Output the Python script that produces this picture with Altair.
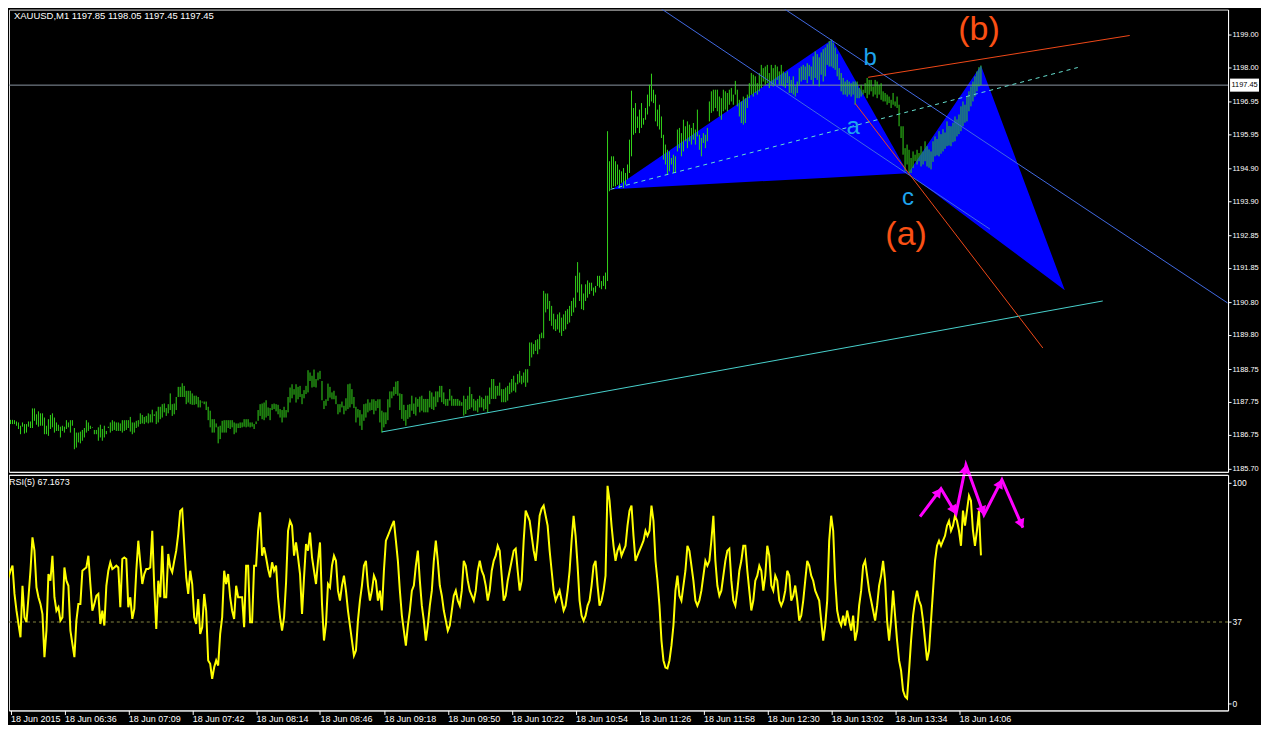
import math
import altair as alt
import pandas as pd

# ---------------- data ----------------
# XAUUSD M1 bars: bar index 0..490, high / low
highs = [
 1187.02, 1187.19, 1187.12, 1187.19, 1187.20, 1187.20, 1187.19, 1187.15, 1187.12, 1187.02,
 1187.12, 1187.07, 1187.07, 1187.15, 1187.15, 1187.55, 1187.55, 1187.37, 1187.46, 1187.40,
 1187.40, 1187.27, 1187.02, 1187.22, 1187.35, 1187.40, 1187.27, 1187.12, 1187.05, 1186.99,
 1187.02, 1186.99, 1187.19, 1187.12, 1187.19, 1187.19, 1186.95, 1186.81, 1186.81, 1186.84,
 1186.89, 1186.95, 1187.19, 1187.12, 1187.02, 1186.97, 1186.89, 1186.89, 1186.97, 1187.05,
 1186.92, 1187.02, 1186.86, 1186.99, 1187.12, 1187.19, 1187.15, 1187.12, 1187.12, 1187.09,
 1187.19, 1187.19, 1187.19, 1187.19, 1187.29, 1187.12, 1187.12, 1187.17, 1187.19, 1187.40,
 1187.35, 1187.29, 1187.32, 1187.40, 1187.37, 1187.51, 1187.37, 1187.46, 1187.60, 1187.60,
 1187.68, 1187.70, 1187.56, 1187.68, 1188.01, 1187.68, 1187.70, 1187.90, 1188.21, 1188.21,
 1188.32, 1188.24, 1188.09, 1188.09, 1188.09, 1188.01, 1187.94, 1187.94, 1187.90, 1187.80,
 1187.76, 1187.76, 1187.76, 1187.60, 1187.48, 1187.22, 1187.22, 1187.09, 1186.99, 1187.02,
 1187.17, 1187.19, 1187.19, 1187.19, 1187.19, 1187.19, 1187.12, 1187.09, 1187.09, 1187.12,
 1187.12, 1187.22, 1187.22, 1187.22, 1187.12, 1187.12, 1187.07, 1187.15, 1187.50, 1187.68,
 1187.70, 1187.73, 1187.80, 1187.58, 1187.56, 1187.68, 1187.70, 1187.68, 1187.66, 1187.53,
 1187.50, 1187.60, 1187.50, 1187.90, 1188.19, 1188.29, 1188.14, 1188.29, 1188.21, 1188.24,
 1187.99, 1188.11, 1188.24, 1188.72, 1188.65, 1188.55, 1188.74, 1188.45, 1188.65, 1188.70,
 1188.39, 1187.78, 1187.83, 1188.31, 1188.21, 1188.04, 1188.09, 1187.94, 1187.68, 1187.68,
 1187.76, 1187.63, 1187.86, 1188.29, 1188.31, 1188.14, 1187.90, 1187.60, 1187.53, 1187.50,
 1187.37, 1187.68, 1187.70, 1187.83, 1187.73, 1187.83, 1187.83, 1187.78, 1187.83, 1187.83,
 1187.48, 1187.43, 1187.43, 1187.83, 1188.07, 1188.07, 1188.21, 1188.37, 1188.39, 1188.01,
 1187.99, 1187.66, 1187.50, 1187.66, 1187.68, 1187.94, 1187.70, 1187.89, 1187.84, 1187.91,
 1187.94, 1187.84, 1187.84, 1187.84, 1188.09, 1188.04, 1187.91, 1188.07, 1188.07, 1188.24,
 1188.24, 1188.04, 1187.84, 1187.84, 1188.14, 1187.94, 1187.84, 1187.84, 1187.84, 1187.79,
 1187.74, 1187.94, 1187.84, 1187.94, 1188.21, 1187.99, 1187.84, 1187.79, 1187.84, 1187.94,
 1187.89, 1187.84, 1187.94, 1187.94, 1188.19, 1188.45, 1188.45, 1188.24, 1188.24, 1188.34,
 1188.14, 1188.14, 1188.19, 1188.24, 1188.34, 1188.45, 1188.55, 1188.34, 1188.60, 1188.70,
 1188.55, 1188.65, 1188.75, 1188.75, 1189.57, 1189.57, 1189.52, 1189.64, 1189.67, 1189.82,
 1189.87, 1191.15, 1191.07, 1191.07, 1190.84, 1190.69, 1190.45, 1190.28, 1190.43, 1190.49,
 1190.33, 1190.43, 1190.54, 1190.59, 1190.69, 1190.84, 1190.94, 1191.61, 1192.03, 1191.71,
 1191.35, 1191.07, 1191.35, 1191.47, 1191.40, 1191.40, 1191.25, 1191.30, 1191.61, 1191.61,
 1191.45, 1191.61, 1191.71, 1196.04,
 1195.12, 1195.27, 1195.27, 1195.12, 1195.02, 1194.86, 1194.81, 1194.91, 1194.76, 1195.02,
 1195.78, 1197.28, 1196.75, 1196.90, 1196.49, 1196.70, 1196.90, 1196.44, 1196.75, 1197.16,
 1197.46, 1197.80, 1197.31, 1197.16, 1196.70, 1196.85, 1196.49, 1195.93, 1195.63, 1195.47,
 1195.42, 1195.22, 1195.32, 1195.27, 1196.09, 1196.14, 1195.98, 1196.39, 1196.19, 1196.34,
 1196.24, 1196.14, 1196.29, 1196.09, 1196.70, 1195.93, 1195.83, 1195.98, 1195.93, 1196.14,
 1196.95, 1197.26, 1197.31, 1197.31, 1197.31, 1197.10, 1197.05, 1197.31, 1197.26, 1197.21,
 1197.31, 1197.36, 1197.16, 1197.58, 1197.31, 1197.00, 1196.95, 1197.10, 1197.05, 1197.16,
 1197.51, 1197.82, 1197.77, 1197.72, 1197.51, 1197.82, 1198.07, 1197.97, 1198.02, 1198.07,
 1197.82, 1198.07, 1197.97, 1198.07, 1198.02, 1197.87, 1198.07, 1197.87, 1197.82, 1197.87,
 1197.72, 1197.61, 1197.72, 1197.41, 1197.56, 1197.97, 1198.02, 1198.07, 1198.02, 1198.12,
 1198.07, 1198.02, 1198.33, 1198.48, 1198.40, 1198.30, 1198.45, 1198.55, 1198.60, 1198.70,
 1198.80, 1198.85, 1198.75, 1198.60, 1198.40, 1197.97, 1197.82, 1197.67, 1197.56, 1197.61,
 1197.56, 1197.51, 1197.56, 1197.56, 1197.56, 1197.36, 1197.46, 1197.31, 1197.51, 1197.67,
 1197.61, 1197.61, 1197.41, 1197.61, 1197.56, 1197.46, 1197.51, 1197.26, 1197.21, 1197.16,
 1197.10, 1197.00, 1197.21, 1196.95, 1197.10, 1196.85, 1196.19, 1196.19, 1195.52, 1195.63,
 1195.47, 1195.22, 1195.42, 1195.32, 1195.47, 1195.37,
 1195.58, 1195.42, 1195.73, 1195.58, 1195.48, 1195.42, 1195.73, 1195.88, 1195.80, 1196.04,
 1195.95, 1196.10, 1196.00, 1196.34, 1196.20, 1196.19, 1196.30, 1196.49, 1196.40, 1196.55,
 1196.80, 1196.95, 1196.85, 1197.10, 1197.26, 1197.41, 1197.56, 1197.72, 1197.87, 1198.00,
 1198.05,
]
lows = [
 1186.97, 1187.07, 1187.02, 1187.07, 1187.07, 1187.07, 1187.07, 1187.02, 1186.92, 1186.76,
 1186.99, 1186.78, 1186.81, 1186.99, 1186.95, 1186.95, 1187.17, 1187.05, 1186.99, 1187.02,
 1187.02, 1186.76, 1186.76, 1186.71, 1186.92, 1186.97, 1186.81, 1186.86, 1186.86, 1186.66,
 1186.86, 1186.81, 1186.92, 1186.97, 1186.81, 1187.02, 1186.30, 1186.35, 1186.51, 1186.48,
 1186.56, 1186.66, 1186.81, 1186.86, 1186.92, 1186.95, 1186.76, 1186.76, 1186.56, 1186.66,
 1186.56, 1186.66, 1186.76, 1186.95, 1186.81, 1186.86, 1186.89, 1186.86, 1186.86, 1186.86,
 1186.81, 1186.86, 1186.89, 1186.95, 1186.84, 1186.76, 1186.81, 1186.95, 1186.99, 1187.07,
 1187.09, 1187.07, 1187.12, 1187.09, 1187.12, 1187.12, 1187.32, 1187.07, 1187.12, 1187.22,
 1187.27, 1187.43, 1187.32, 1187.40, 1187.50, 1187.32, 1187.37, 1187.50, 1187.90, 1187.90,
 1187.90, 1187.90, 1187.68, 1187.73, 1187.68, 1187.66, 1187.66, 1187.68, 1187.58, 1187.58,
 1187.73, 1187.68, 1187.50, 1187.19, 1186.97, 1186.81, 1186.81, 1186.97, 1186.48, 1186.61,
 1186.81, 1186.81, 1186.81, 1186.95, 1186.92, 1186.97, 1186.76, 1186.81, 1186.95, 1186.95,
 1186.97, 1186.99, 1186.97, 1186.99, 1186.97, 1186.99, 1186.92, 1187.07, 1187.17, 1187.32,
 1187.22, 1187.19, 1187.27, 1187.32, 1187.19, 1187.50, 1187.53, 1187.46, 1187.37, 1187.27,
 1187.12, 1187.27, 1187.27, 1187.43, 1187.73, 1187.86, 1187.97, 1187.73, 1187.83, 1187.90,
 1187.68, 1187.86, 1187.99, 1188.04, 1188.39, 1188.19, 1188.21, 1188.19, 1188.41, 1188.45,
 1187.80, 1187.53, 1187.63, 1187.78, 1187.88, 1187.83, 1187.83, 1187.68, 1187.37, 1187.43,
 1187.58, 1187.37, 1187.48, 1187.53, 1187.58, 1187.68, 1187.56, 1187.12, 1187.27, 1187.02,
 1186.89, 1187.17, 1187.27, 1187.43, 1187.48, 1187.50, 1187.37, 1187.48, 1187.56, 1187.12,
 1186.81, 1186.97, 1187.07, 1187.19, 1187.58, 1187.86, 1187.94, 1187.99, 1187.94, 1187.50,
 1187.23, 1187.17, 1187.02, 1187.23, 1187.28, 1187.48, 1187.38, 1187.33, 1187.60, 1187.43,
 1187.48, 1187.43, 1187.43, 1187.43, 1187.58, 1187.53, 1187.50, 1187.60, 1187.74, 1187.89,
 1187.74, 1187.68, 1187.63, 1187.63, 1187.79, 1187.63, 1187.63, 1187.63, 1187.63, 1187.63,
 1187.63, 1187.33, 1187.38, 1187.50, 1187.53, 1187.58, 1187.48, 1187.48, 1187.43, 1187.58,
 1187.58, 1187.48, 1187.53, 1187.43, 1187.68, 1187.84, 1187.84, 1187.84, 1187.94, 1187.94,
 1187.74, 1187.74, 1187.74, 1187.79, 1187.99, 1188.04, 1188.09, 1188.04, 1188.29, 1188.34,
 1188.29, 1188.34, 1188.21, 1188.34, 1188.85, 1189.11, 1189.21, 1189.31, 1189.21, 1189.36,
 1189.70, 1189.70, 1190.49, 1190.59, 1190.23, 1190.08, 1189.97, 1189.92, 1189.97, 1189.87,
 1189.77, 1189.92, 1189.97, 1190.13, 1190.18, 1190.38, 1190.49, 1190.64, 1191.10, 1190.84,
 1190.59, 1190.56, 1190.84, 1190.94, 1191.05, 1191.15, 1191.00, 1191.10, 1191.30, 1191.25,
 1191.20, 1191.30, 1191.20, 1191.45,
 1194.20, 1194.30, 1194.35, 1194.35, 1194.40, 1194.30, 1194.46, 1194.30, 1194.40, 1194.56,
 1194.76, 1195.27, 1195.93, 1195.98, 1196.14, 1195.98, 1196.14, 1196.24, 1196.39, 1196.55,
 1196.80, 1196.95, 1196.90, 1196.34, 1196.19, 1196.09, 1195.83, 1195.17, 1195.02, 1194.71,
 1194.81, 1195.02, 1194.76, 1194.76, 1195.42, 1195.52, 1195.27, 1195.42, 1195.73, 1195.52,
 1195.73, 1195.63, 1195.78, 1195.63, 1195.88, 1195.47, 1195.27, 1195.68, 1195.52, 1195.73,
 1196.34, 1196.60, 1196.65, 1196.75, 1196.65, 1196.49, 1196.39, 1196.65, 1196.70, 1196.65,
 1196.85, 1196.95, 1196.85, 1197.16, 1196.80, 1196.49, 1196.29, 1196.24, 1196.29, 1196.75,
 1197.05, 1197.16, 1197.10, 1197.21, 1197.16, 1197.26, 1197.36, 1197.56, 1197.46, 1197.51,
 1197.36, 1197.46, 1197.41, 1197.46, 1197.61, 1197.46, 1197.46, 1197.41, 1197.36, 1197.51,
 1197.21, 1197.21, 1197.16, 1197.10, 1197.21, 1197.46, 1197.56, 1197.61, 1197.61, 1197.51,
 1197.72, 1197.61, 1197.46, 1197.67, 1197.61, 1197.41, 1197.77, 1197.56, 1197.72, 1198.07,
 1198.02, 1198.02, 1197.97, 1197.92, 1197.72, 1197.61, 1197.26, 1197.16, 1197.16, 1197.10,
 1197.16, 1197.10, 1197.16, 1196.85, 1197.05, 1197.05, 1197.10, 1197.16, 1197.21, 1197.05,
 1197.16, 1197.26, 1197.10, 1197.16, 1197.05, 1197.16, 1197.00, 1196.95, 1196.95, 1196.85,
 1196.90, 1196.75, 1196.85, 1196.80, 1196.75, 1196.19, 1195.83, 1195.32, 1194.81, 1195.02,
 1194.75, 1194.76, 1194.91, 1195.12, 1195.02, 1195.12,
 1194.96, 1195.02, 1195.12, 1194.96, 1194.92, 1194.87, 1195.10, 1195.27, 1195.30, 1195.27,
 1195.35, 1195.42, 1195.50, 1195.58, 1195.60, 1195.58, 1195.70, 1195.73, 1195.88, 1195.95,
 1196.04, 1196.19, 1196.30, 1196.34, 1196.65, 1196.80, 1196.95, 1197.10, 1197.26, 1197.41,
 1197.45,
]

# RSI(5) per bar
rsi = [
 43.7, 64.0, 54.2, 57.2, 60.2, 62.5, 49.7, 42.1, 36.1, 30.1,
 53.4, 39.1, 36.9, 48.2, 60.2, 75.3, 69.3, 52.7, 48.2, 45.2,
 40.6, 21.1, 33.1, 58.7, 55.7, 67.0, 48.2, 42.1, 43.7, 37.6,
 39.1, 61.7, 55.7, 53.4, 33.1, 27.1, 21.1, 37.6, 45.2, 45.2,
 60.2, 61.0, 61.7, 67.0, 54.2, 42.1, 45.2, 48.9, 49.7, 36.1,
 42.1, 35.4, 53.4, 60.2, 64.0, 61.0, 61.7, 62.5, 61.7, 43.7,
 65.5, 66.2, 65.5, 43.7, 48.2, 38.4, 42.9, 60.2, 73.8, 64.0,
 54.2, 58.7, 61.0, 61.0, 61.7, 78.3, 52.7, 33.9, 55.7, 48.2,
 71.5, 48.2, 48.2, 67.8, 61.7, 59.5, 64.7, 69.3, 76.8, 87.3,
 88.1, 72.3, 57.2, 49.7, 60.2, 54.2, 39.1, 36.1, 47.4, 31.6,
 34.6, 49.7, 42.1, 19.6, 18.1, 11.3, 16.5, 19.6, 17.3, 31.6,
 39.1, 60.2, 54.2, 58.7, 48.2, 42.1, 38.4, 53.4, 48.2, 48.2,
 48.2, 34.6, 62.5, 62.5, 36.9, 36.9, 62.5, 62.5, 78.3, 86.6,
 67.0, 70.8, 66.2, 61.0, 57.2, 64.0, 60.2, 62.5, 48.2, 39.1,
 33.1, 39.1, 54.9, 78.3, 82.8, 80.6, 67.0, 73.0, 66.2, 58.7,
 40.6, 57.2, 72.3, 69.3, 77.5, 66.2, 60.2, 54.2, 64.7, 73.0,
 45.2, 28.6, 36.1, 54.2, 52.7,
 62.5, 67.0, 64.7, 51.2, 46.7, 53.5, 58.0, 51.2, 42.2, 35.4,
 28.6, 21.8, 24.1, 37.6, 46.7, 53.5, 62.5, 64.7, 53.5, 46.7,
 51.2, 58.0, 55.7, 46.7, 51.2, 42.2, 60.2, 73.8, 76.0, 78.3,
 80.6, 82.8, 73.8, 64.7, 51.2, 39.9, 33.1, 26.3, 35.4, 42.2,
 51.2, 53.5, 62.5, 69.3, 55.7, 44.4, 37.6, 28.6, 35.4, 44.4,
 51.2, 64.7, 73.8, 64.7, 53.5, 48.9, 42.2, 37.6, 33.1, 35.4,
 42.2, 48.9, 51.2, 46.7, 44.4, 51.2, 64.7, 62.5, 55.7, 51.2,
 48.9, 46.7, 51.2, 60.2, 64.7, 60.2, 58.0, 53.5, 46.7, 51.2,
 60.2, 64.7, 67.0, 71.5, 69.3, 58.0, 46.7, 48.9, 55.7, 60.2,
 64.7, 69.3, 70.2, 60.2, 51.2, 55.7, 73.8, 87.4, 85.1, 82.8,
 76.0, 69.3, 64.7, 73.8, 85.1, 88.3, 89.7, 85.1, 80.6, 69.3,
 60.2, 51.2, 46.7, 48.9, 51.2, 46.7, 42.2, 44.4, 51.2, 60.2,
 73.8, 85.1, 76.0, 62.5, 46.7, 39.9, 37.6, 39.9, 44.4, 46.7,
 53.5, 62.5, 64.7, 53.5, 44.4, 46.7, 51.2, 58.0, 98.6, 91.9,
 80.6, 71.5, 64.7, 69.3, 71.5, 67.0, 69.3, 71.5, 80.6, 87.4,
 89.7, 76.0, 64.7, 67.0, 69.3, 71.5, 73.8, 78.3, 76.0, 78.3,
 89.7, 82.8, 64.7, 55.7, 44.4, 28.6, 19.6, 16.4, 16.0, 19.6,
 26.3, 35.4, 51.2, 58.0, 48.9, 46.7, 53.5, 60.2, 71.5, 69.3,
 62.5, 55.7, 46.7, 44.4, 46.7, 51.2, 58.0, 64.7, 62.5, 64.7,
 73.8, 85.1, 64.7, 53.5, 48.9, 51.2, 58.0, 64.7, 69.3, 70.2,
 55.7, 46.7, 44.4, 51.2, 60.2, 64.7, 71.5, 71.5, 60.2, 51.2,
 42.2, 46.7, 55.7, 58.0, 62.5, 60.2, 51.2, 58.0, 71.5, 67.0,
 53.5, 51.2, 58.0, 55.7, 46.7, 44.4, 46.7, 51.2, 60.2, 58.0,
 46.7, 48.9, 53.5, 46.7, 37.6, 39.9, 46.7, 55.7, 64.7, 62.5,
 58.0, 55.7, 51.2, 48.9, 46.7, 37.6, 28.6, 35.4, 46.7, 73.8,
 85.1, 78.3, 55.7, 42.2, 37.6, 35.4, 39.9, 35.4, 42.2, 37.6,
 33.1, 39.9, 28.6, 33.1, 44.4, 51.2, 62.5, 64.7, 58.0, 51.2,
 46.7, 42.2, 37.6, 44.4, 53.5, 58.0, 64.7, 55.7, 37.6, 28.6,
 37.6, 51.2, 39.9, 28.6, 19.6, 15.0, 6.0, 3.3, 2.4, 15.0,
 28.6, 39.9, 46.7, 51.2, 46.7, 44.4, 37.6, 28.6, 19.6, 24.1,
 37.6, 51.2, 64.7, 71.5, 73.8, 71.5, 73.8, 76.0, 80.6, 82.8,
 78.3, 80.6, 85.1, 82.8, 78.3, 71.5, 87.4, 80.6, 87.4, 94.2,
 91.9, 78.3, 71.5, 78.3, 87.4, 67.17,
]

# time axis labels (bar index -> text)
time_ticks = [4, 31, 63, 95, 127, 159, 191, 223, 255, 287, 319, 351, 383, 415, 447, 479]
time_labels = ["18 Jun 2015", "18 Jun 06:36", "18 Jun 07:09", "18 Jun 07:42", "18 Jun 08:14",
               "18 Jun 08:46", "18 Jun 09:18", "18 Jun 09:50", "18 Jun 10:22", "18 Jun 10:54",
               "18 Jun 11:26", "18 Jun 11:58", "18 Jun 12:30", "18 Jun 13:02", "18 Jun 13:34",
               "18 Jun 14:06"]
price_ticks = [1199.00, 1198.00, 1196.95, 1195.95, 1194.90, 1193.90, 1192.85, 1191.85,
               1190.80, 1189.80, 1188.75, 1187.75, 1186.75, 1185.70]
rsi_ticks = [0, 37, 100]
rsi_level = 37
bid_price = 1197.45

# trend lines (bar index, price) pairs
line_names = ["fan1", "fan2", "trend", "wave_a", "wave_b"]
line_i0 = [324.5, 386.0, 190.0, 427.0, 433.5]
line_p0 = [1200.01, 1200.01, 1186.83, 1196.89, 1197.69]
line_i1 = [494.5, 613.5, 551.0, 521.0, 564.5]
line_p1 = [1193.04, 1190.78, 1190.84, 1189.40, 1198.97]
line_colors = ["#4169e1", "#4169e1", "#48d1cc", "#f04818", "#f04818"]
dash_i = [304.5, 538.5]
dash_p = [1194.26, 1197.99]

# harmonic pattern X A B C D
pat_i = [305.5, 415.5, 453.5, 490.0, 532.0]
pat_p = [1194.26, 1198.85, 1194.75, 1198.05, 1191.17]

# wave labels
lab_text = ["a", "b", "c", "(a)", "(b)"]
lab_i = [426.0, 434.5, 453.5, 452.5, 489.0]
lab_p = [1196.16, 1198.27, 1193.99, 1192.85, 1199.15]
lab_col = ["#1ea4ee", "#1ea4ee", "#1ea4ee", "#fa5014", "#fa5014"]
lab_size = [24, 24, 24, 34, 34]

# magenta zig-zag arrows on RSI
arrow_i = [459.5, 470.0, 477.5, 482.5, 491.5, 500.5, 511.0]
arrow_r = [84.7, 97.3, 86.0, 108.1, 85.5, 101.4, 79.7]

# ---------------- layout ----------------
W = 1221
H1 = 463
H2 = 236
X_DOMAIN = [3.25, 3.25 + W / 2]
P_DOMAIN = [1185.608, 1199.764]
R_DOMAIN = [-3.03, 103.61]
WHITE = "#ffffff"
FONT = "Liberation Sans"
EDGE_X = 1261          # fixed right bound of the drawing
EDGE_Y = H2 + 14       # fixed bottom bound below the RSI panel
PRICE_FS = 7.4

XS = alt.Scale(domain=X_DOMAIN, nice=False, zero=False)
PS = alt.Scale(domain=P_DOMAIN, nice=False, zero=False)
RS = alt.Scale(domain=R_DOMAIN, nice=False, zero=False)

x_top_axis = alt.Axis(labels=False, ticks=False, domain=True, domainColor=WHITE,
                      domainWidth=1, grid=False, title=None)
p_axis = alt.Axis(orient="right", values=price_ticks, format=".2f", labelColor=WHITE,
                  labelFontSize=PRICE_FS, labelFont=FONT, tickColor=WHITE, tickSize=3,
                  domainColor=WHITE, grid=False, title=None, labelPadding=1,
                  labelOverlap=False, labelFlush=False, labelBound=False)

expr = "''"
for v, t in reversed(list(zip(time_ticks, time_labels))):
    expr = f"datum.value == {v} ? '{t}' : ({expr})"
x_bot_axis = alt.Axis(values=time_ticks, labelExpr=expr, labelColor=WHITE, labelFontSize=9,
                      labelFont=FONT, labelAlign="left", labelBaseline="top", labelPadding=0,
                      tickColor=WHITE, tickSize=4, domainColor=WHITE, grid=False, title=None,
                      labelOverlap=False, labelFlush=False, labelBound=False)
r_axis = alt.Axis(orient="right", values=rsi_ticks, format="d", labelColor=WHITE,
                  labelFontSize=8.5, labelFont=FONT, tickColor=WHITE, tickSize=3,
                  domainColor=WHITE, grid=False, title=None, labelPadding=1,
                  labelOverlap=False, labelFlush=False, labelBound=False)


def X():
    return alt.X("i:Q", scale=XS, axis=x_top_axis)


def P():
    return alt.Y("p:Q", scale=PS, axis=p_axis)


# ---- top panel data ----
bars = pd.DataFrame({"i": list(range(len(highs))), "p": lows, "p2": highs})

lines_rows = []
for n, a0, b0, a1, b1, c in zip(line_names, line_i0, line_p0, line_i1, line_p1, line_colors):
    lines_rows.append({"id": n, "i": a0, "p": b0, "col": c})
    lines_rows.append({"id": n, "i": a1, "p": b1, "col": c})
lines_df = pd.DataFrame(lines_rows)
dash_df = pd.DataFrame({"i": dash_i, "p": dash_p})


def tri(k0, k1, k2, name):
    base_mid = pat_p[k0] + (pat_p[k2] - pat_p[k0]) * (pat_i[k1] - pat_i[k0]) / (pat_i[k2] - pat_i[k0])
    return [
        {"tri": name, "i": pat_i[k0], "p": pat_p[k0], "p2": pat_p[k0]},
        {"tri": name, "i": pat_i[k1], "p": pat_p[k1], "p2": base_mid},
        {"tri": name, "i": pat_i[k2], "p": pat_p[k2], "p2": pat_p[k2]},
    ]


tri_df = pd.DataFrame(tri(0, 1, 2, "XAB") + tri(2, 3, 4, "BCD"))
labels_df = pd.DataFrame({"i": lab_i, "p": lab_p, "t": lab_text, "col": lab_col, "fs": lab_size})
bid_df = pd.DataFrame({"p": [bid_price + 0.2], "p2": [bid_price - 0.2]})

triangles = alt.Chart(tri_df).mark_area(color="#0000ff", opacity=1, orient="vertical",
                                        clip=True).encode(
    x=X(), y=P(), y2="p2:Q", detail="tri:N")
bid_line = alt.Chart(pd.DataFrame({"p": [bid_price]})).mark_rule(
    color="#8a96a3", strokeWidth=1).encode(y=P())
bar_marks = alt.Chart(bars).mark_rule(color="#33d41a", strokeWidth=1, clip=True).encode(
    x=X(), y=P(), y2="p2:Q")
trend = alt.Chart(lines_df).mark_line(strokeWidth=1, clip=True).encode(
    x=X(), y=P(), detail="id:N", color=alt.Color("col:N", scale=None))
dashed = alt.Chart(dash_df).mark_line(strokeWidth=1, strokeDash=[4, 4], color="#66e0d0",
                                      clip=True).encode(x=X(), y=P())
wave_text = alt.Chart(labels_df).mark_text(font=FONT, baseline="middle", align="center").encode(
    x=X(), y=P(), text="t:N", color=alt.Color("col:N", scale=None),
    size=alt.Size("fs:Q", scale=None))
price_box = alt.Chart(bid_df).mark_rect(color=WHITE).encode(
    x=alt.value(W + 2), x2=alt.value(W + 31), y=P(), y2="p2:Q")
price_box_text = alt.Chart(pd.DataFrame({"p": [bid_price], "t": [f"{bid_price:.2f}"]})).mark_text(
    font=FONT, fontSize=PRICE_FS, color="#000000", align="left", baseline="middle").encode(
    x=alt.value(W + 3.5), y=P(), text="t:N")
header = alt.Chart(pd.DataFrame({"t": ["XAUUSD,M1  1197.85 1198.05 1197.45 1197.45"]})).mark_text(
    font=FONT, fontSize=9.5, color=WHITE, align="left", baseline="top").encode(
    x=alt.value(5), y=alt.value(1), text="t:N")
right_edge = alt.Chart(pd.DataFrame({"k": [0]})).mark_rect(opacity=0).encode(
    x=alt.value(W), x2=alt.value(EDGE_X), y=alt.value(0), y2=alt.value(1))

top = alt.layer(triangles, bid_line, bar_marks, trend, dashed, wave_text,
                price_box, price_box_text, header, right_edge).properties(width=W, height=H1)

# ---- RSI panel ----
rsi_df = pd.DataFrame({"i": list(range(len(rsi))), "r": rsi})


def XB():
    return alt.X("i:Q", scale=XS, axis=x_bot_axis)


def R():
    return alt.Y("r:Q", scale=RS, axis=r_axis)


px_bar = W / (X_DOMAIN[1] - X_DOMAIN[0])
px_r = H2 / (R_DOMAIN[1] - R_DOMAIN[0])
heads = []
for k in range(1, len(arrow_i)):
    dx = (arrow_i[k] - arrow_i[k - 1]) * px_bar
    dy = -(arrow_r[k] - arrow_r[k - 1]) * px_r
    L = math.hypot(dx, dy)
    ang = math.degrees(math.atan2(dx, -dy)) % 360
    back = 4.0
    heads.append({"i": arrow_i[k] - dx / L * back / px_bar,
                  "r": arrow_r[k] + dy / L * back / px_r, "ang": ang})
heads_df = pd.DataFrame(heads)
arrow_df = pd.DataFrame({"i": arrow_i, "r": arrow_r})

level = alt.Chart(pd.DataFrame({"r": [rsi_level]})).mark_rule(
    color="#85853f", strokeWidth=1, strokeDash=[3, 3]).encode(y=R())
rsi_line = alt.Chart(rsi_df).mark_line(color="#ffff00", strokeWidth=2, clip=True).encode(
    x=XB(), y=R())
arrows = alt.Chart(arrow_df).mark_line(color="#ff00ff", strokeWidth=3).encode(x=XB(), y=R())
arrow_heads = alt.Chart(heads_df).mark_point(shape="triangle-up", filled=True, size=110,
                                             color="#ff00ff", opacity=1).encode(
    x=XB(), y=R(), angle=alt.Angle("ang:Q", scale=None))
top_border = alt.Chart(pd.DataFrame({"k": [0]})).mark_rule(color=WHITE, strokeWidth=1).encode(
    x=alt.value(0), x2=alt.value(W), y=alt.value(0.5))
rsi_title = alt.Chart(pd.DataFrame({"t": ["RSI(5) 67.1673"]})).mark_text(
    font=FONT, fontSize=9, color=WHITE, align="left", baseline="top").encode(
    x=alt.value(0), y=alt.value(3), text="t:N")
bottom_edge = alt.Chart(pd.DataFrame({"k": [0]})).mark_rect(opacity=0).encode(
    x=alt.value(0), x2=alt.value(1), y=alt.value(H2), y2=alt.value(EDGE_Y))

bottom = alt.layer(level, rsi_line, arrows, arrow_heads, top_border, rsi_title,
                   bottom_edge).properties(width=W, height=H2)

chart = alt.vconcat(top, bottom, spacing=3, bounds="flush").properties(
    padding={"left": 0, "top": 0, "right": -8, "bottom": -1},
    background="#000000", autosize=alt.AutoSizeParams(type="pad")
).configure_view(stroke="transparent", strokeWidth=0).configure(font=FONT)

chart.save("out.html", embed_options={"renderer": "svg", "actions": False})
